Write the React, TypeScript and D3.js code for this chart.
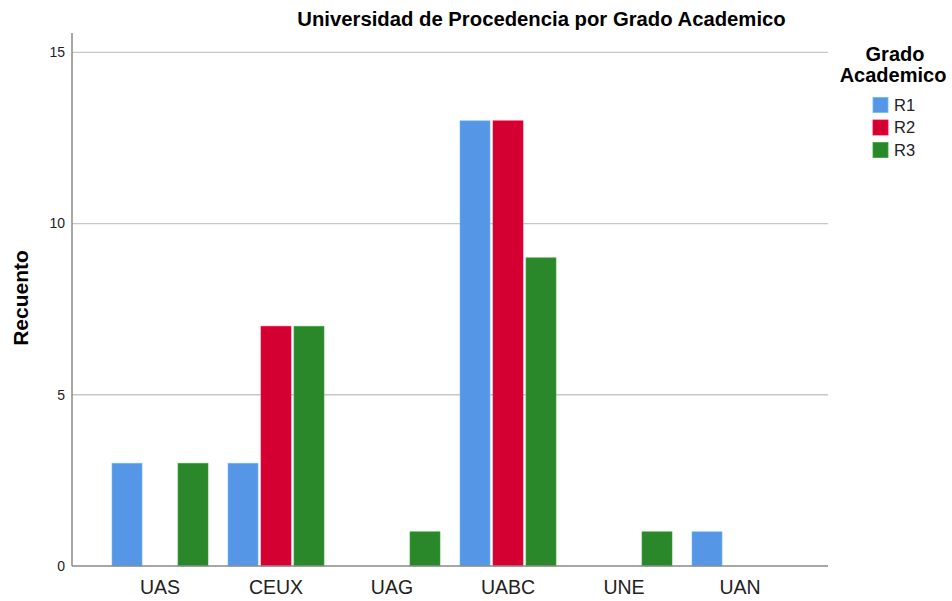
import React from "react";
import * as d3 from "d3";

const categories = ["UAS", "CEUX", "UAG", "UABC", "UNE", "UAN"];
const seriesNames = ["R1", "R2", "R3"];
const r1Values = [3, 3, 0, 13, 0, 1];
const r2Values = [0, 7, 0, 13, 0, 0];
const r3Values = [3, 7, 1, 9, 1, 0];
const seriesColors = ["#5597e6", "#d50032", "#2a882a"];
const yTicks = [0, 5, 10, 15];

const W = 952;
const H = 601;
const left = 72;
const right = 828;
const top = 33;
const bottom = 566;

export default function App() {
  const seriesValues = [r1Values, r2Values, r3Values];
  const x0 = d3.scaleBand<string>().domain(categories).range([left + 30, right - 30]).paddingInner(0).paddingOuter(0);
  const groupW = 96;
  const x1 = d3.scaleBand<string>().domain(seriesNames).range([0, groupW]).paddingInner(0.09).paddingOuter(0);
  const y = d3.scaleLinear().domain([0, 15]).range([bottom, 52.3]);
  const font = "'Liberation Sans', Arial, sans-serif";

  return (
    <svg width={W} height={H} style={{ position: "absolute", left: 0, top: 0, background: "#fff" }} fontFamily={font}>
      <rect x={0} y={0} width={W} height={H} fill="#fff" />
      {/* gridlines */}
      {yTicks.filter((t) => t > 0).map((t) => (
        <line key={t} x1={left} x2={right} y1={y(t)} y2={y(t)} stroke="#c8c8c8" strokeWidth={1.3} />
      ))}
      {/* bars */}
      {categories.map((c, ci) => (
        <g key={c} transform={`translate(${(x0(c) as number) + (x0.bandwidth() - groupW) / 2},0)`}>
          {seriesNames.map((s, si) => {
            const v = seriesValues[si][ci];
            if (!v) return null;
            return (
              <rect
                key={s}
                x={x1(s) as number}
                y={y(v)}
                width={x1.bandwidth()}
                height={bottom - y(v)}
                fill={seriesColors[si]}
                stroke={d3.color(seriesColors[si])!.brighter(0.6).toString()}
                strokeWidth={0.8}
                strokeOpacity={0.7}
              />
            );
          })}
        </g>
      ))}
      {/* axes */}
      <line x1={left} x2={left} y1={top} y2={bottom} stroke="#8a8a8a" strokeWidth={1.5} />
      <line x1={left} x2={right} y1={bottom} y2={bottom} stroke="#8a8a8a" strokeWidth={1.5} />
      {yTicks.map((t) => (
        <text key={t} x={left - 7} y={y(t)} dy="0.35em" textAnchor="end" fontSize={14} fill="#222">
          {t}
        </text>
      ))}
      {categories.map((c) => (
        <text key={c} x={(x0(c) as number) + x0.bandwidth() / 2} y={593.5} textAnchor="middle" fontSize={19.5} fill="#222">
          {c}
        </text>
      ))}
      {/* y label */}
      <text transform={`translate(28,298) rotate(-90)`} textAnchor="middle" fontSize={21} fontWeight="bold" fill="#000">
        Recuento
      </text>
      {/* title */}
      <text x={541.5} y={26} textAnchor="middle" fontSize={20.3} fontWeight="bold" fill="#000">
        Universidad de Procedencia por Grado Academico
      </text>
      {/* legend */}
      <text x={895} y={61} textAnchor="middle" fontSize={20} fontWeight="bold" fill="#000">
        Grado
      </text>
      <text x={893} y={81.5} textAnchor="middle" fontSize={20} fontWeight="bold" fill="#000">
        Academico
      </text>
      {seriesNames.map((s, i) => (
        <g key={s} transform={`translate(873,${97.5 + i * 22.5})`}>
          <rect x={0} y={0} width={15} height={15} fill={seriesColors[i]} stroke={d3.color(seriesColors[i])!.brighter(0.6).toString()} strokeWidth={0.8} />
          <text x={21} y={7.5} dy="0.36em" fontSize={16.5} fill="#222">
            {s}
          </text>
        </g>
      ))}
    </svg>
  );
}
